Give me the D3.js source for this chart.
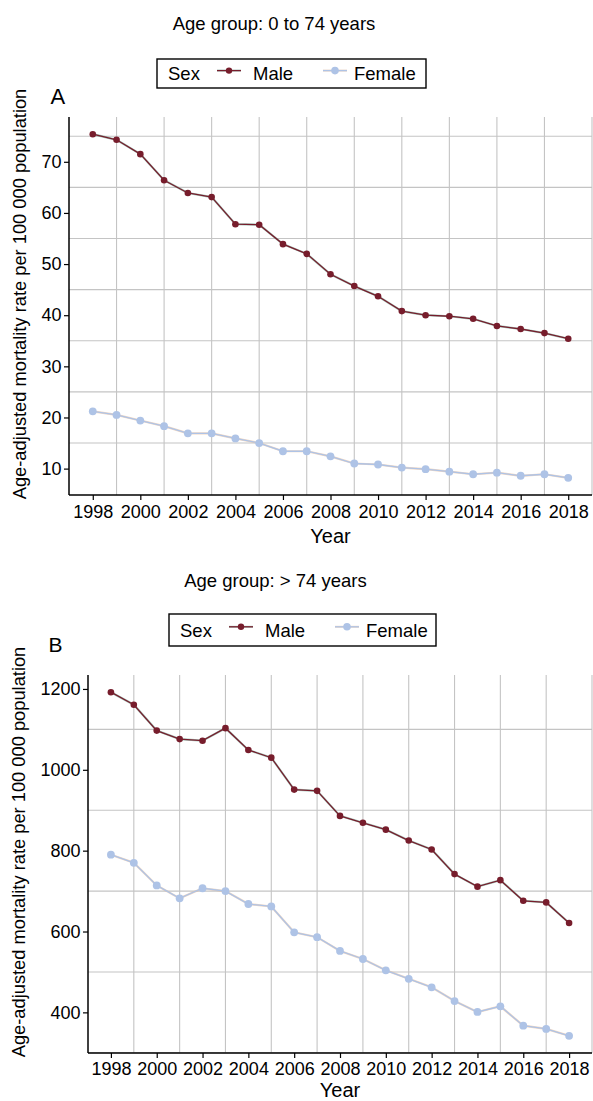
<!DOCTYPE html>
<html>
<head>
<meta charset="utf-8">
<script src="https://cdn.jsdelivr.net/npm/d3@7/dist/d3.min.js"></script>
<style>
  html, body { margin: 0; padding: 0; background: #fff; }
  svg { display: block; font-family: "Liberation Sans", Arial, Helvetica, sans-serif; }
</style>
</head>
<body>
<svg id="chart" width="593" height="1101"></svg>
<script>
// ---------- data ----------
const years = [1998, 1999, 2000, 2001, 2002, 2003, 2004, 2005, 2006, 2007, 2008,
               2009, 2010, 2011, 2012, 2013, 2014, 2015, 2016, 2017, 2018];
const seriesNames = ["Male", "Female"];

// Panel A: 0 to 74 years
const maleA   = [75.4, 74.3, 71.5, 66.4, 63.9, 63.1, 57.8, 57.7, 53.9, 52.0, 48.0,
                 45.7, 43.7, 40.8, 40.0, 39.8, 39.3, 37.9, 37.3, 36.5, 35.4];
const femaleA = [21.2, 20.5, 19.4, 18.3, 16.9, 16.9, 15.9, 15.0, 13.4, 13.4, 12.4,
                 11.0, 10.8, 10.2, 9.9, 9.4, 8.9, 9.2, 8.6, 8.9, 8.2];

// Panel B: > 74 years
const maleB   = [1192, 1161, 1097, 1076, 1072, 1103, 1049, 1030, 951, 948, 886,
                 869, 852, 825, 803, 742, 711, 727, 676, 672, 621];
const femaleB = [790, 770, 714, 682, 707, 700, 668, 662, 598, 586, 552,
                 532, 504, 483, 462, 428, 401, 415, 367, 359, 342];

const xTicks = [1998, 2000, 2002, 2004, 2006, 2008, 2010, 2012, 2014, 2016, 2018];
const xGrid  = [1999, 2001, 2003, 2005, 2007, 2009, 2011, 2013, 2015, 2017, 2019];
const yTicksA = [10, 20, 30, 40, 50, 60, 70];
const yGridA  = [15, 25, 35, 45, 55, 65, 75];
const yTicksB = [400, 600, 800, 1000, 1200];
const yGridB  = [300, 500, 700, 900, 1100];

const titles = ["Age group: 0 to 74 years", "Age group: > 74 years"];
const tags = ["A", "B"];
const xTitle = "Year";
const yTitle = "Age-adjusted mortality rate per 100 000 population";
const legendTitle = "Sex";

// ---------- style ----------
const colMale = "#771d2c", colFemale = "#aec3e6";
const underMale = "#5f9c88", underFemale = "#e3b58e";
const gridCol = "#c4c4c4";

const svg = d3.select("#chart");

const panels = [
  { male: maleA, female: femaleA, yTicks: yTicksA, yGrid: yGridA,
    left: 69, right: 592, top: 117, bottom: 495,
    titleX: 274, titleY: 30, tagX: 50.5, tagY: 104, tagSize: 22,
    legX: 157, legY: 59, legW: 269, legH: 29,
    yTitleX: 26, yTitleY: 294, xTitleY: 543, xLabY: 518 },
  { male: maleB, female: femaleB, yTicks: yTicksB, yGrid: yGridB,
    left: 88, right: 592, top: 675, bottom: 1053,
    titleX: 275.5, titleY: 587, tagX: 48.5, tagY: 652, tagSize: 21,
    legX: 169, legY: 614, legW: 267, legH: 32,
    yTitleX: 25, yTitleY: 852, xTitleY: 1097, xLabY: 1075 }
];

panels.forEach((p, i) => {
  const g = svg.append("g");
  const yExt = d3.extent(p.male.concat(p.female));
  const pad = (yExt[1] - yExt[0]) * 0.05;
  const xPad = (years[years.length - 1] - years[0]) * 0.05;

  const x = d3.scaleLinear()
    .domain([years[0] - xPad, years[years.length - 1] + xPad])
    .range([p.left, p.right]);
  const y = d3.scaleLinear()
    .domain([yExt[0] - pad, yExt[1] + pad])
    .range([p.bottom, p.top]);

  // title
  g.append("text").attr("x", p.titleX).attr("y", p.titleY)
    .attr("text-anchor", "middle").attr("font-size", 18.5).attr("fill", "#000")
    .text(titles[i]);

  // tag
  g.append("text").attr("x", p.tagX).attr("y", p.tagY)
    .attr("font-size", p.tagSize).attr("fill", "#000").text(tags[i]);

  // legend
  const lg = g.append("g").attr("transform", `translate(${p.legX},${p.legY})`);
  lg.append("rect").attr("width", p.legW).attr("height", p.legH)
    .attr("fill", "#fff").attr("stroke", "#000").attr("stroke-width", 1.4);
  const baseY = p.legH * 0.72;
  const keyY = p.legH * 0.40;
  lg.append("text").attr("x", 11).attr("y", baseY).attr("font-size", 18.5).text(legendTitle);
  const keys = [
    { name: seriesNames[0], col: colMale, under: underMale, r: 3.2, lx: 60, tx: 96 },
    { name: seriesNames[1], col: colFemale, under: underFemale, r: 3.8, lx: 166, tx: 197 }
  ];
  keys.forEach(k => {
    lg.append("line").attr("x1", k.lx).attr("x2", k.lx + 24).attr("y1", keyY).attr("y2", keyY)
      .attr("stroke", k.under).attr("stroke-width", 2).attr("opacity", 0.5);
    lg.append("line").attr("x1", k.lx).attr("x2", k.lx + 24).attr("y1", keyY).attr("y2", keyY)
      .attr("stroke", k.col).attr("stroke-width", 1.3);
    lg.append("circle").attr("cx", k.lx + 12).attr("cy", keyY).attr("r", k.r).attr("fill", k.col);
    lg.append("text").attr("x", k.tx).attr("y", baseY).attr("font-size", 18.5).text(k.name);
  });

  // grid
  const grid = g.append("g");
  grid.selectAll(".hg").data(p.yGrid.filter(v => v >= y.domain()[0] && v <= y.domain()[1]))
    .join("line")
    .attr("x1", p.left).attr("x2", p.right)
    .attr("y1", d => y(d)).attr("y2", d => y(d))
    .attr("stroke", gridCol).attr("stroke-width", 1.1);
  grid.selectAll(".vg").data(xGrid.filter(v => v <= x.domain()[1] + 0.001))
    .join("line")
    .attr("x1", d => x(d)).attr("x2", d => x(d))
    .attr("y1", p.top).attr("y2", p.bottom)
    .attr("stroke", gridCol).attr("stroke-width", 1.1);

  // axes
  const xAxis = d3.axisBottom(x).tickValues(xTicks).tickFormat(d3.format("d"))
    .tickSize(5).tickPadding(6);
  const yAxis = d3.axisLeft(y).tickValues(p.yTicks).tickFormat(d3.format("d"))
    .tickSize(5).tickPadding(2.5);

  const gx = g.append("g").attr("transform", `translate(0,${p.bottom})`).call(xAxis);
  const gy = g.append("g").attr("transform", `translate(${p.left},0)`).call(yAxis);
  [gx, gy].forEach(a => {
    a.select(".domain").attr("stroke", "#000").attr("stroke-width", 1.5);
    a.selectAll(".tick line").attr("stroke", "#000").attr("stroke-width", 1.2);
    a.selectAll(".tick text").attr("font-size", 18).attr("fill", "#000")
      .attr("font-family", "Liberation Sans, Arial, sans-serif");
  });
  gx.select(".domain").attr("d", `M${p.left},0H${p.right}`);
  gy.select(".domain").attr("d", `M0,${p.bottom}V${p.top}`);
  gx.selectAll(".tick text").attr("dy", null).attr("y", p.xLabY - p.bottom);

  // axis titles
  g.append("text").attr("x", (p.left + p.right) / 2).attr("y", p.xTitleY)
    .attr("text-anchor", "middle").attr("font-size", 20).text(xTitle);
  g.append("text")
    .attr("transform", `translate(${p.yTitleX},${p.yTitleY}) rotate(-90)`)
    .attr("text-anchor", "middle").attr("font-size", 18.3).text(yTitle);

  // lines and points
  const line = d3.line().x((d, j) => x(years[j])).y(d => y(d));
  const series = [
    { vals: p.female, col: colFemale, under: underFemale, r: 3.9 },
    { vals: p.male, col: colMale, under: underMale, r: 3.3 }
  ];
  series.forEach(s => {
    g.append("path").datum(s.vals).attr("d", line).attr("fill", "none")
      .attr("stroke", s.under).attr("stroke-width", 2.2).attr("opacity", 0.55);
    g.append("path").datum(s.vals).attr("d", line).attr("fill", "none")
      .attr("stroke", s.col).attr("stroke-width", 1.3);
    g.append("g").selectAll("circle").data(s.vals).join("circle")
      .attr("cx", (d, j) => x(years[j])).attr("cy", d => y(d))
      .attr("r", s.r).attr("fill", s.col);
  });
});
</script>
</body>
</html>
